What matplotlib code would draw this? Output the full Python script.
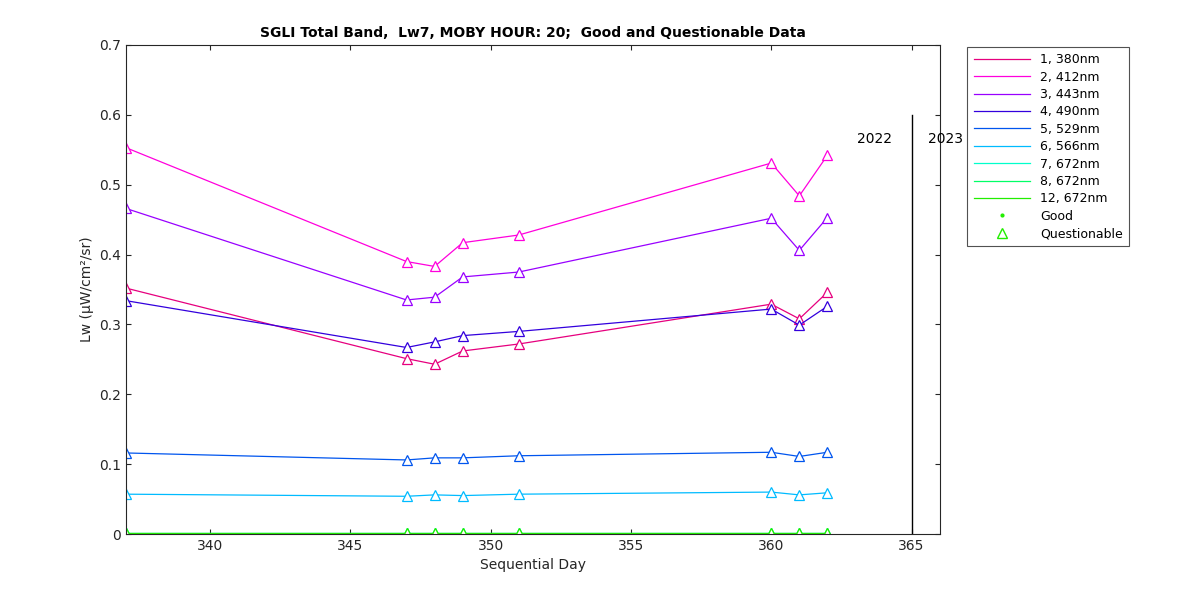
import matplotlib
matplotlib.use("Agg")
import matplotlib.pyplot as plt
from matplotlib.lines import Line2D

days = [337, 347, 348, 349, 351, 360, 361, 362]
labels = ["1, 380nm", "2, 412nm", "3, 443nm", "4, 490nm", "5, 529nm",
          "6, 566nm", "7, 672nm", "8, 672nm", "12, 672nm"]
colors = ["#e6007e", "#ff00dd", "#9900ff", "#3300dd", "#0055ee",
          "#00bbff", "#00ffcc", "#00ff66", "#22ee00"]
lw380 = [0.352, 0.251, 0.243, 0.262, 0.272, 0.329, 0.308, 0.346]
lw412 = [0.553, 0.390, 0.383, 0.417, 0.428, 0.531, 0.484, 0.542]
lw443 = [0.466, 0.335, 0.339, 0.368, 0.375, 0.452, 0.406, 0.453]
lw490 = [0.334, 0.267, 0.275, 0.284, 0.290, 0.322, 0.299, 0.326]
lw529 = [0.116, 0.106, 0.109, 0.109, 0.112, 0.117, 0.111, 0.117]
lw566 = [0.057, 0.054, 0.056, 0.055, 0.057, 0.060, 0.056, 0.059]
lw672a = [0.002, 0.002, 0.002, 0.002, 0.002, 0.002, 0.002, 0.002]
lw672b = [0.001, 0.001, 0.001, 0.001, 0.001, 0.001, 0.001, 0.001]
lw672c = [0.001, 0.001, 0.001, 0.001, 0.001, 0.001, 0.001, 0.001]
series = [lw380, lw412, lw443, lw490, lw529, lw566, lw672a, lw672b, lw672c]

fig = plt.figure(figsize=(12, 6), dpi=100)
ax = fig.add_axes([0.105, 0.11, 0.678, 0.815])
plt.rcParams["font.family"] = "DejaVu Sans"

handles = []
for vals, c, lab in zip(series, colors, labels):
    ax.plot(days, vals, color=c, lw=0.9)
    ax.plot(days, vals, ls="none", marker="^", ms=7, mfc="white", mec=c, mew=0.9)
    handles.append(Line2D([], [], color=c, lw=0.9, label=lab))
handles.append(Line2D([], [], ls="none", marker=".", ms=4, color="#22ee00", label="Good"))
handles.append(Line2D([], [], ls="none", marker="^", ms=7, mfc="none", mec="#22ee00", label="Questionable"))

ax.plot([365, 365], [0, 0.6], color="black", lw=1)
ax.text(364.3, 0.565, "2022", ha="right", va="center", fontsize=10)
ax.text(365.6, 0.565, "2023", ha="left", va="center", fontsize=10, clip_on=False)

ax.set_xlim(337, 366)
ax.set_ylim(0, 0.7)
ax.set_xticks([340, 345, 350, 355, 360, 365])
ax.set_yticks([0, 0.1, 0.2, 0.3, 0.4, 0.5, 0.6, 0.7])
ax.set_yticklabels(["0", "0.1", "0.2", "0.3", "0.4", "0.5", "0.6", "0.7"])
ax.tick_params(direction="in", labelsize=10, colors="#262626", top=True, right=True)
for s in ax.spines.values():
    s.set_color("#262626")
ax.set_xlabel("Sequential Day", fontsize=10, color="#262626")
ax.set_ylabel("Lw (µW/cm²/sr)", fontsize=10, color="#262626")
ax.set_title("SGLI Total Band,  Lw7, MOBY HOUR: 20;  Good and Questionable Data",
             fontsize=10, fontweight="bold")

leg = fig.legend(handles=handles, loc="upper left", bbox_to_anchor=(0.801, 0.932),
                 fontsize=9, frameon=True, fancybox=False, edgecolor="#262626",
                 handlelength=4.5, labelspacing=0.35, borderpad=0.5)
leg.get_frame().set_linewidth(0.8)

fig.savefig("out.png", dpi=100)
